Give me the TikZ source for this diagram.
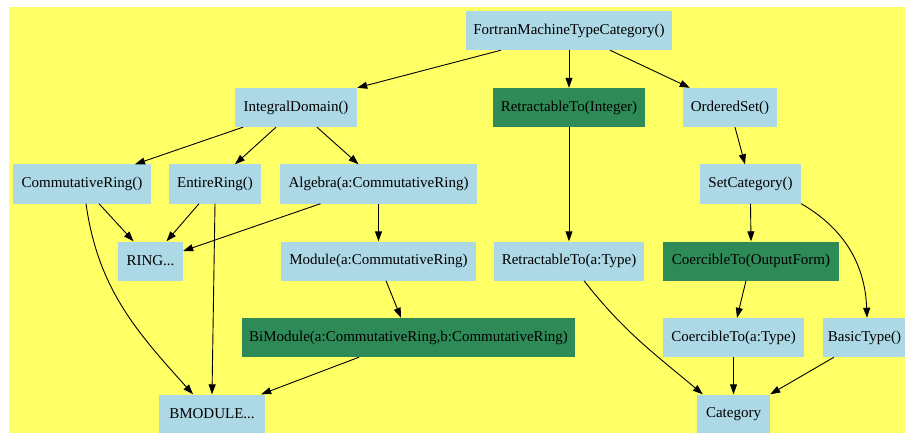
\documentclass[tikz,border=0pt]{standalone}
\usepackage{fontspec}
\setmainfont{Liberation Serif}
\usepackage{xcolor}
\usepackage{tikz}
\usetikzlibrary{arrows.meta, calc}
\definecolor{bgyellow}{HTML}{FFFF66}
\definecolor{lblue}{HTML}{ADD8E6}
\definecolor{sgreen}{HTML}{2E8B57}
\tikzset{
  cat/.style={rectangle,fill=lblue,inner sep=0pt,minimum height=39pt,font=\fontsize{15}{17}\selectfont},
  gcat/.style={cat,fill=sgreen},
  arr/.style={-{Triangle[length=10pt,width=7pt]},line width=0.9pt}
}

\begin{document}
\begin{tikzpicture}[x=1pt,y=-1pt]
  \useasboundingbox (0,0) rectangle (905,433);
  \fill[bgyellow] (9,7) rectangle (905,433);

  % Row 1
  \node[cat,minimum width=206pt] (fmtc) at (569,30.5) {FortranMachineTypeCategory()};

  % Row 2
  \node[cat,minimum width=122pt]  (intdom) at (296,107.5) {IntegralDomain()};
  \node[gcat,minimum width=152pt] (retint) at (569,107.5) {RetractableTo(Integer)};
  \node[cat,minimum width=94pt]   (ordset) at (730,107.5) {OrderedSet()};

  % Row 3
  \node[cat,minimum width=138pt] (commring) at (82,184)    {CommutativeRing()};
  \node[cat,minimum width=92pt]  (entire)   at (215,184)   {EntireRing()};
  \node[cat,minimum width=197pt] (algebra)  at (378.5,184) {Algebra(a:CommutativeRing)};
  \node[cat,minimum width=101pt] (setcat)   at (750.5,184) {SetCategory()};

  % Row 4
  \node[cat,minimum width=65pt]   (ring)    at (150.5,261) {RING...};
  \node[cat,minimum width=195pt]  (module)  at (378.5,261) {Module(a:CommutativeRing)};
  \node[cat,minimum width=150pt]  (rettype) at (569,261)   {RetractableTo(a:Type)};
  \node[gcat,minimum width=176pt] (coerof)  at (751,261)   {CoercibleTo(OutputForm)};

  % Row 5
  \node[gcat,minimum width=333pt] (bimod)    at (408.5,337.5) {BiModule(a:CommutativeRing,b:CommutativeRing)};
  \node[cat,minimum width=141pt]  (coertype) at (733.5,337.5) {CoercibleTo(a:Type)};
  \node[cat,minimum width=83pt]   (basic)    at (864.5,337.5) {BasicType()};

  % Row 6
  \node[cat,minimum width=106pt] (bmod)     at (212,414)   {BMODULE...};
  \node[cat,minimum width=73pt]  (category) at (733.5,414) {Category};

  % edges
  \draw[arr] ([xshift=-68pt]fmtc.south) -- (intdom.north east);
  \draw[arr] (fmtc.south) -- (retint.north);
  \draw[arr] ([xshift=41pt]fmtc.south) -- ([xshift=7pt]ordset.north west);

  \draw[arr] ([xshift=-53pt]intdom.south) -- ([xshift=53pt]commring.north);
  \draw[arr] ([xshift=-20pt]intdom.south) -- ([xshift=20pt]entire.north);
  \draw[arr] ([xshift=21pt]intdom.south) -- ([xshift=-20pt]algebra.north);

  \draw[arr] ([xshift=17pt]commring.south) -- ([xshift=-17pt]ring.north);
  \draw[arr] ([xshift=4pt]commring.south) to[out=-82,in=132] ([xshift=-19pt]bmod.north);
  \draw[arr] ([xshift=-16pt]entire.south) -- ([xshift=16pt]ring.north);
  \draw[arr] (entire.south) -- (bmod.north);
  \draw[arr] ([xshift=-58pt]algebra.south) -- ([yshift=10pt]ring.east);
  \draw[arr] (algebra.south) -- (module.north);

  \draw[arr] ([xshift=7.5pt]module.south) -- ([xshift=-7.5pt]bimod.north);
  \draw[arr] ([xshift=-49.5pt]bimod.south) -- ([xshift=-4pt]bmod.north east);

  \draw[arr] (retint.south) -- (rettype.north);
  \draw[arr] ([xshift=15pt]rettype.south) to[out=-52,in=140] ([xshift=6pt]category.north west);

  \draw[arr] ([xshift=5pt]ordset.south) -- ([xshift=-5.5pt]setcat.north);
  \draw[arr] (setcat.south) -- (coerof.north);
  \draw[arr] (setcat.south east) to[out=-30,in=92] ([xshift=2.5pt]basic.north);
  \draw[arr] ([xshift=-5pt]coerof.south) -- ([xshift=3.5pt]coertype.north);
  \draw[arr] (coertype.south) -- (category.north);
  \draw[arr] ([xshift=-30.5pt]basic.south) -- (category.north east);
\end{tikzpicture}
\end{document}
